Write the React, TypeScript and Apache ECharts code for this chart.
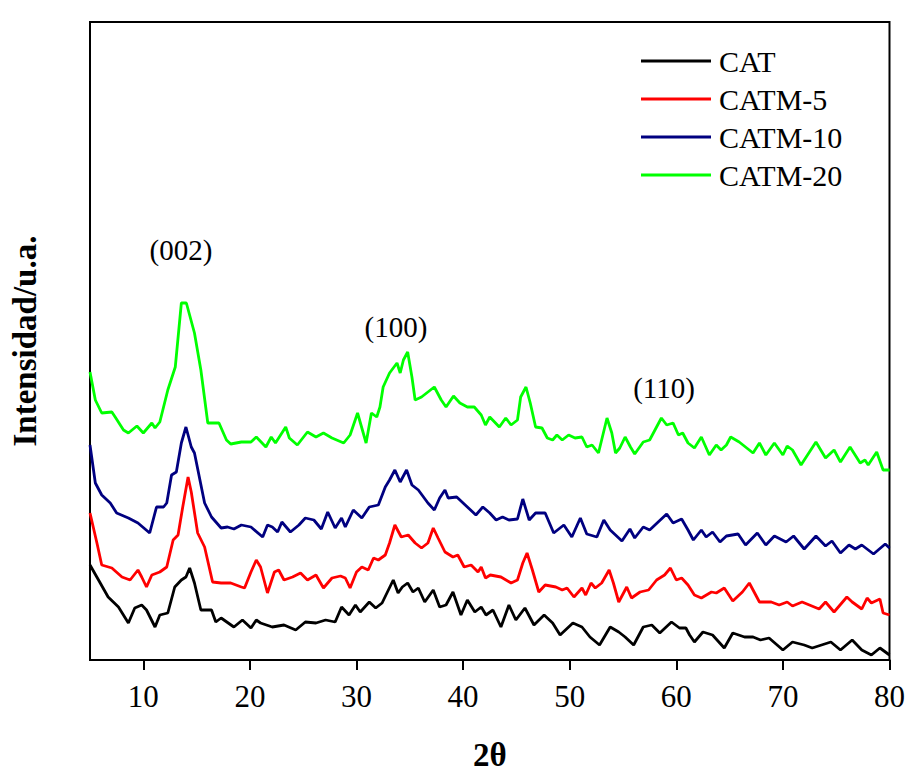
import React, { useEffect, useRef } from "react";
import * as echarts from "echarts";

const seriesNames = ["CAT", "CATM-5", "CATM-10", "CATM-20"];
const seriesColors = ["#000000", "#ff0000", "#000080", "#00ff00"];
const xTickValues = [10, 20, 30, 40, 50, 60, 70, 80];

const catData: [number, number][] = [
  [5.0, 95], [5.8, 80], [6.7, 63], [7.67, 53], [8.6, 37], [9.2, 52], [9.85, 55], [10.3, 50], [11.1, 33], [11.55, 45],
  [12.3, 47], [12.95, 73], [13.57, 80], [14.0, 83], [14.35, 92], [14.8, 77], [15.4, 50], [16.4, 50], [16.8, 38], [17.3, 42],
  [18.5, 33], [19.3, 40], [20.1, 32], [20.6, 40], [21.0, 37], [22.1, 33], [23.2, 35], [24.3, 30], [25.2, 38], [26.2, 37],
  [27.1, 40], [28.0, 38], [28.6, 53], [29.3, 45], [29.9, 55], [30.35, 48], [31.2, 58], [31.8, 52], [32.4, 57], [32.9, 68],
  [33.45, 80], [33.9, 67], [34.3, 73], [34.8, 77], [35.3, 68], [35.8, 72], [36.4, 58], [37.2, 70], [37.8, 53], [38.4, 55],
  [39.05, 68], [39.8, 45], [40.4, 60], [41.1, 48], [41.7, 53], [42.15, 45], [42.8, 50], [43.55, 33], [44.3, 55], [44.95, 40],
  [45.8, 52], [46.65, 35], [47.6, 45], [48.4, 37], [49.1, 25], [50.3, 37], [51.15, 33], [51.9, 23], [52.8, 15], [53.8, 33],
  [54.6, 28], [55.2, 23], [56.0, 15], [56.9, 33], [57.7, 35], [58.45, 27], [59.55, 38], [60.3, 32], [60.9, 32], [61.25, 25],
  [61.7, 18], [62.5, 28], [63.4, 25], [64.5, 12], [65.3, 27], [66.4, 23], [67.2, 23], [67.9, 20], [68.7, 22], [70.0, 10],
  [70.9, 18], [72.0, 15], [72.75, 12], [74.5, 18], [75.4, 10], [76.5, 20], [77.4, 10], [78.3, 5], [79.1, 12], [80, 5],
];

const catm5Data: [number, number][] = [
  [5.0, 147], [5.65, 117], [6.1, 95], [7.05, 92], [8.0, 83], [8.76, 80], [9.5, 90], [9.85, 83], [10.3, 73], [10.8, 85],
  [11.55, 88], [12.2, 93], [12.8, 120], [13.26, 125], [13.7, 153], [14.2, 183], [14.5, 168], [15.1, 127], [15.75, 113], [16.5, 78],
  [17.3, 77], [18.2, 77], [19.2, 73], [19.5, 72], [20.1, 88], [20.6, 100], [21.0, 93], [21.65, 67], [22.3, 88], [22.7, 90],
  [23.2, 80], [24.0, 83], [24.75, 87], [25.4, 80], [26.2, 85], [26.9, 72], [27.7, 82], [28.5, 84], [28.95, 82], [29.4, 72],
  [30.0, 88], [30.5, 93], [31.1, 90], [31.6, 102], [32.05, 100], [32.7, 105], [33.1, 117], [33.6, 135], [34.2, 123], [34.85, 125],
  [35.5, 117], [36.1, 112], [36.7, 117], [37.2, 132], [37.65, 122], [38.3, 108], [39.05, 103], [39.5, 105], [40.1, 93], [40.75, 95],
  [41.4, 88], [41.7, 93], [42.1, 82], [42.55, 85], [43.55, 83], [44.5, 77], [45.1, 80], [45.6, 97], [46.0, 107], [46.5, 90],
  [47.1, 68], [47.7, 75], [48.7, 73], [49.3, 70], [49.75, 72], [50.4, 63], [51.15, 72], [51.5, 65], [52.0, 77], [52.4, 72],
  [53.0, 77], [53.7, 90], [54.1, 77], [54.6, 58], [55.35, 73], [55.8, 62], [56.6, 68], [57.4, 70], [58.15, 80], [58.9, 85],
  [59.45, 92], [60.0, 80], [60.5, 82], [61.1, 75], [61.7, 65], [62.35, 62], [63.3, 68], [63.75, 67], [64.5, 72], [65.3, 59],
  [66.2, 68], [66.85, 77], [67.8, 58], [68.9, 58], [69.65, 55], [70.4, 58], [70.9, 54], [71.8, 58], [73.4, 51], [74.0, 58],
  [74.8, 48], [76.0, 63], [76.5, 58], [77.4, 51], [77.9, 62], [78.3, 57], [79.1, 61], [79.4, 47], [80, 45],
];

const catm10Data: [number, number][] = [
  [5.0, 215], [5.5, 177], [6.1, 165], [6.9, 157], [7.5, 147], [8.6, 142], [9.5, 137], [10.6, 127], [11.24, 153], [11.9, 153],
  [12.2, 157], [12.65, 185], [13.1, 188], [13.57, 217], [14.0, 233], [14.5, 213], [14.8, 207], [15.75, 157], [16.4, 143], [17.3, 132],
  [17.9, 133], [18.5, 131], [19.2, 135], [20.1, 133], [21.2, 123], [21.65, 135], [22.1, 133], [22.6, 128], [23.0, 138], [23.4, 133],
  [23.8, 128], [24.6, 135], [25.2, 142], [26.0, 140], [26.7, 131], [27.3, 148], [28.0, 132], [28.6, 142], [28.95, 133], [29.7, 150],
  [30.5, 142], [31.2, 153], [32.05, 155], [32.7, 173], [33.1, 180], [33.6, 190], [34.1, 178], [34.7, 190], [35.2, 175], [35.8, 170],
  [36.7, 157], [37.3, 150], [37.8, 162], [38.3, 170], [38.6, 162], [39.4, 163], [40.0, 157], [40.4, 153], [41.2, 145], [41.85, 153],
  [42.5, 147], [43.1, 140], [43.7, 143], [44.3, 140], [45.1, 141], [45.6, 161], [46.2, 140], [46.8, 147], [47.7, 147], [48.5, 127],
  [49.45, 135], [50.2, 123], [51.0, 142], [51.6, 126], [52.55, 123], [53.2, 140], [53.8, 130], [54.9, 119], [55.65, 131], [56.1, 122],
  [56.9, 133], [57.5, 130], [58.3, 138], [59.1, 146], [59.7, 137], [60.5, 141], [61.1, 130], [61.6, 120], [62.35, 130], [62.8, 123],
  [63.4, 128], [64.1, 118], [64.7, 124], [65.8, 126], [66.5, 115], [67.6, 127], [68.4, 115], [69.2, 124], [70.3, 118], [71.0, 124],
  [72.0, 111], [73.1, 124], [74.0, 114], [74.6, 119], [75.4, 107], [76.2, 115], [76.8, 111], [77.4, 115], [78.5, 106], [79.6, 116],
  [80, 112],
];

const catm20Data: [number, number][] = [
  [5.0, 288], [5.5, 260], [6.1, 247], [7.05, 248], [7.36, 243], [8.14, 230], [8.6, 227], [9.4, 234], [10.0, 227], [10.8, 237],
  [11.1, 232], [11.55, 238], [12.3, 270], [13.0, 293], [13.57, 357], [14.04, 357], [14.8, 327], [15.4, 290], [16.05, 237], [16.7, 237],
  [17.1, 237], [17.8, 220], [18.2, 216], [19.2, 218], [20.1, 218], [20.6, 223], [21.5, 213], [22.0, 223], [22.4, 217], [23.36, 233],
  [23.7, 222], [24.45, 215], [25.4, 228], [26.2, 223], [26.9, 227], [27.7, 222], [28.8, 217], [29.4, 225], [30.1, 247], [30.9, 217],
  [31.4, 247], [31.9, 243], [32.2, 253], [32.5, 273], [33.1, 287], [33.8, 297], [34.1, 287], [34.4, 300], [34.8, 308], [35.2, 283],
  [35.5, 260], [36.1, 263], [36.7, 268], [37.3, 273], [37.95, 260], [38.4, 253], [39.1, 264], [39.7, 257], [40.4, 253], [41.05, 253],
  [41.7, 245], [42.1, 235], [42.5, 243], [43.4, 233], [44.0, 242], [44.5, 235], [45.1, 240], [45.4, 263], [45.9, 273], [46.3, 257],
  [46.8, 233], [47.4, 232], [47.9, 222], [48.4, 220], [48.8, 225], [49.3, 220], [49.9, 225], [50.5, 222], [51.15, 223], [51.6, 213],
  [52.1, 215], [52.7, 207], [53.5, 242], [53.95, 227], [54.3, 207], [54.7, 212], [55.2, 223], [55.7, 213], [56.1, 206], [56.9, 218],
  [57.5, 220], [58.0, 230], [58.6, 242], [59.1, 235], [59.7, 237], [60.2, 225], [60.6, 227], [61.1, 217], [61.7, 212], [62.35, 223],
  [63.1, 205], [63.75, 215], [64.2, 210], [64.7, 215], [65.1, 223], [65.9, 218], [67.2, 207], [67.8, 217], [68.4, 205], [69.2, 217],
  [70.0, 205], [70.4, 214], [70.9, 210], [71.7, 195], [73.1, 218], [74.0, 202], [74.8, 210], [75.4, 198], [76.3, 213], [77.25, 197],
  [77.7, 200], [78.0, 195], [78.8, 208], [79.4, 190], [80, 190],
];

const peakLabels = ["(002)", "(100)", "(110)"];

const SERIF = '"Liberation Serif", "Times New Roman", serif';

export default function App() {
  const ref = useRef<HTMLDivElement>(null);

  useEffect(() => {
    document.body.style.margin = "0";
    if (!ref.current) return;
    const chart = echarts.init(ref.current, undefined, { renderer: "svg" });
    const allData = [catData, catm5Data, catm10Data, catm20Data];
    const labelPos = [
      [181, 250],
      [396, 327],
      [664, 388],
    ];
    chart.setOption({
      animation: false,
      backgroundColor: "#ffffff",
      grid: {
        left: 88,
        right: 17,
        top: 22,
        bottom: 116,
        show: true,
        borderColor: "#000",
        borderWidth: 2,
        backgroundColor: "transparent",
      },
      legend: {
        orient: "vertical",
        left: 636,
        top: 41,
        itemWidth: 70,
        itemHeight: 3,
        itemGap: 8,
        icon: "rect",
        data: seriesNames,
        textStyle: {
          fontFamily: SERIF,
          fontSize: 30,
          color: "#000",
          padding: [0, 0, 0, 3],
        },
      },
      xAxis: {
        type: "value",
        min: 5,
        max: 80,
        name: "2θ",
        nameLocation: "middle",
        nameGap: 78,
        nameTextStyle: {
          fontFamily: SERIF,
          fontSize: 33,
          fontWeight: "bold",
          color: "#000",
        },
        axisLine: { show: true, onZero: false, lineStyle: { color: "#000", width: 2 } },
        axisTick: {
          show: true,
          inside: false,
          length: 10,
          lineStyle: { color: "#000", width: 2 },
          customValues: xTickValues,
        },
        axisLabel: {
          show: true,
          margin: 21,
          fontFamily: SERIF,
          fontSize: 31,
          color: "#000",
          customValues: xTickValues,
        },
        splitLine: { show: false },
      },
      yAxis: {
        type: "value",
        min: 0,
        max: 638,
        name: "Intensidad/u.a.",
        nameLocation: "middle",
        nameGap: 49,
        nameTextStyle: {
          fontFamily: SERIF,
          fontSize: 33,
          fontWeight: "bold",
          color: "#000",
        },
        axisLine: { show: true, lineStyle: { color: "#000", width: 2 } },
        axisTick: { show: false },
        axisLabel: { show: false },
        splitLine: { show: false },
      },
      graphic: peakLabels.map((t, i) => ({
        type: "text",
        x: labelPos[i][0],
        y: labelPos[i][1],
        style: {
          text: t,
          font: `29px ${SERIF}`,
          fill: "#000",
          textAlign: "center",
          textVerticalAlign: "middle",
        },
      })),
      series: seriesNames.map((name, i) => ({
        name,
        type: "line",
        data: allData[i],
        showSymbol: false,
        symbol: "none",
        smooth: false,
        lineStyle: { color: seriesColors[i], width: 2.8 },
        itemStyle: { color: seriesColors[i] },
      })),
    });
    return () => chart.dispose();
  }, []);

  return <div ref={ref} style={{ width: 908, height: 776 }} />;
}
